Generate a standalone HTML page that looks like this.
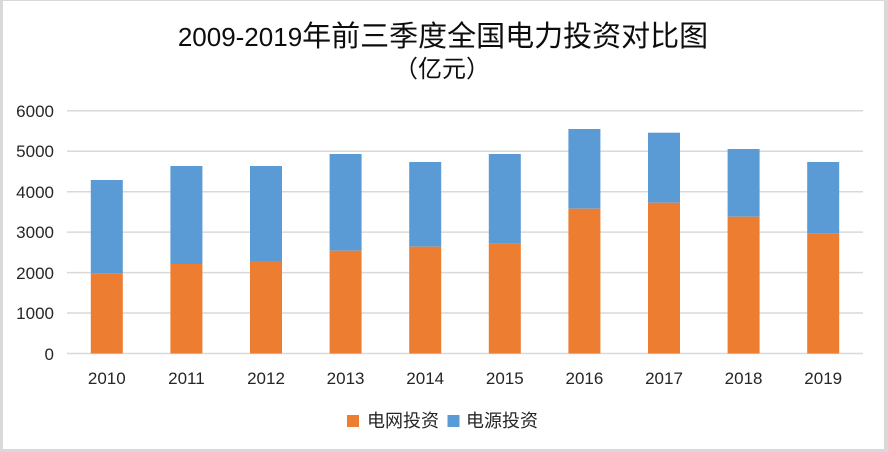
<!DOCTYPE html>
<html>
<head>
<meta charset="utf-8">
<style>
  html,body{margin:0;padding:0;background:#fff;}
  svg{display:block;}
  text{font-family:"Liberation Sans","Noto Sans CJK SC",sans-serif;}
</style>
</head>
<body>
<svg width="888" height="452" viewBox="0 0 888 452" xmlns="http://www.w3.org/2000/svg">
  <rect x="0" y="0" width="888" height="452" fill="#d9d9d9"/>
  <rect x="3" y="1" width="881" height="448" fill="#ffffff"/>

  <!-- Title -->
  <text x="443" y="46" text-anchor="middle" fill="#0d0d0d" style="font-size:29px;"><tspan style="font-size:26px;">2009-2019</tspan>年前三季度全国电力投资对比图</text>
  <text x="442" y="77" text-anchor="middle" fill="#0d0d0d" style="font-size:24px;">（亿元）</text>

  <!-- Gridlines -->
  <g stroke="#d9d9d9" stroke-width="1.5">
    <line x1="67" y1="110.8" x2="863" y2="110.8"/>
    <line x1="67" y1="151.25" x2="863" y2="151.25"/>
    <line x1="67" y1="191.7" x2="863" y2="191.7"/>
    <line x1="67" y1="232.15" x2="863" y2="232.15"/>
    <line x1="67" y1="272.6" x2="863" y2="272.6"/>
    <line x1="67" y1="313.05" x2="863" y2="313.05"/>
    <line x1="67" y1="353.5" x2="863" y2="353.5"/>
  </g>

  <!-- Y labels -->
  <g fill="#262626" style="font-size:17px;" text-anchor="end">
    <text x="54" y="117">6000</text>
    <text x="54" y="157">5000</text>
    <text x="54" y="198">4000</text>
    <text x="54" y="238">3000</text>
    <text x="54" y="279">2000</text>
    <text x="54" y="319">1000</text>
    <text x="54" y="360">0</text>
  </g>

  <!-- Bars -->
  <g>
    <rect x="90.8" y="180" width="32" height="93.3" fill="#5b9bd5"/>
    <rect x="90.8" y="273.3" width="32" height="80.2" fill="#ed7d31"/>
    <rect x="170.4" y="166" width="32" height="98" fill="#5b9bd5"/>
    <rect x="170.4" y="264" width="32" height="89.5" fill="#ed7d31"/>
    <rect x="250" y="166" width="32" height="95" fill="#5b9bd5"/>
    <rect x="250" y="261" width="32" height="92.5" fill="#ed7d31"/>
    <rect x="329.6" y="154" width="32" height="96.7" fill="#5b9bd5"/>
    <rect x="329.6" y="250.7" width="32" height="102.8" fill="#ed7d31"/>
    <rect x="409.2" y="162" width="32" height="84.7" fill="#5b9bd5"/>
    <rect x="409.2" y="246.7" width="32" height="106.8" fill="#ed7d31"/>
    <rect x="488.8" y="154" width="32" height="89.7" fill="#5b9bd5"/>
    <rect x="488.8" y="243.7" width="32" height="109.8" fill="#ed7d31"/>
    <rect x="568.4" y="129" width="32" height="79.7" fill="#5b9bd5"/>
    <rect x="568.4" y="208.7" width="32" height="144.8" fill="#ed7d31"/>
    <rect x="648" y="132.7" width="32" height="70" fill="#5b9bd5"/>
    <rect x="648" y="202.7" width="32" height="150.8" fill="#ed7d31"/>
    <rect x="727.6" y="149" width="32" height="67.7" fill="#5b9bd5"/>
    <rect x="727.6" y="216.7" width="32" height="136.8" fill="#ed7d31"/>
    <rect x="807.2" y="162" width="32" height="71.7" fill="#5b9bd5"/>
    <rect x="807.2" y="233.7" width="32" height="119.8" fill="#ed7d31"/>
  </g>

  <!-- X labels -->
  <g fill="#262626" style="font-size:17px;" text-anchor="middle">
    <text x="106.8" y="384">2010</text>
    <text x="186.4" y="384">2011</text>
    <text x="266" y="384">2012</text>
    <text x="345.6" y="384">2013</text>
    <text x="425.2" y="384">2014</text>
    <text x="504.8" y="384">2015</text>
    <text x="584.4" y="384">2016</text>
    <text x="664" y="384">2017</text>
    <text x="743.6" y="384">2018</text>
    <text x="823.2" y="384">2019</text>
  </g>

  <!-- Legend -->
  <rect x="347" y="415" width="12" height="12" fill="#ed7d31"/>
  <text x="367" y="427" fill="#262626" style="font-size:18px;">电网投资</text>
  <rect x="447.5" y="415" width="12" height="12" fill="#5b9bd5"/>
  <text x="466" y="427" fill="#262626" style="font-size:18px;">电源投资</text>
</svg>
</body>
</html>
